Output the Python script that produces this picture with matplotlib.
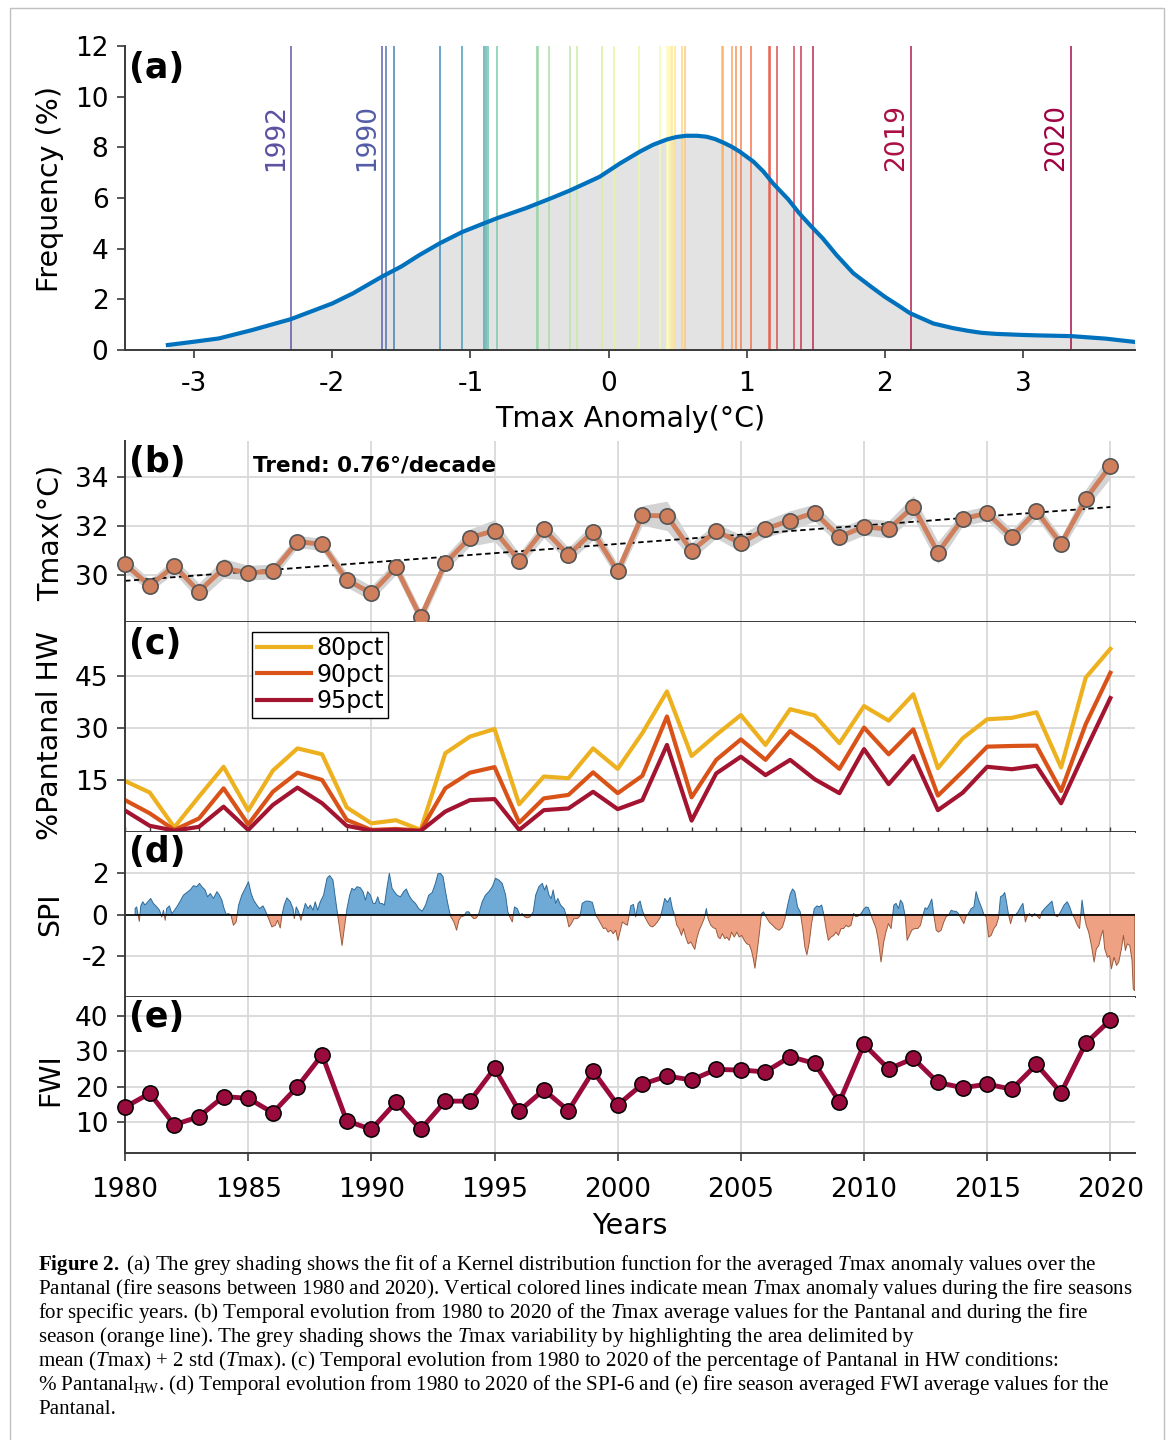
import numpy as np
import matplotlib.pyplot as plt
from matplotlib.patches import Rectangle

plt.rcParams['axes.unicode_minus'] = False
plt.rcParams['mathtext.fontset'] = 'custom'
plt.rcParams['mathtext.rm'] = 'Liberation Serif'
plt.rcParams['mathtext.it'] = 'Liberation Serif:italic'
plt.rcParams['mathtext.bf'] = 'Liberation Serif:bold'

# ---------------- data ----------------
years = np.arange(1980, 2021)

# (a) kernel density curve
kde_x = [-3.19, -3.0, -2.82, -2.58, -2.30, -2.0, -1.85, -1.64, -1.50, -1.37,
         -1.22, -1.06, -0.88, -0.80, -0.70, -0.60, -0.52, -0.40, -0.28, -0.16,
         -0.065, 0.08, 0.225, 0.32, 0.42, 0.49, 0.56, 0.64, 0.71, 0.77,
         0.83, 0.89, 0.95, 1.05, 1.12, 1.19, 1.30, 1.38, 1.46, 1.55,
         1.65, 1.77, 1.90, 2.0, 2.10, 2.18, 2.35, 2.49, 2.60, 2.70,
         2.80, 2.98, 3.10, 3.35, 3.60, 3.81]
kde_y = [0.20, 0.33, 0.46, 0.79, 1.22, 1.84, 2.24, 2.90, 3.30, 3.75,
         4.22, 4.66, 5.05, 5.22, 5.41, 5.60, 5.77, 6.03, 6.30, 6.60,
         6.84, 7.36, 7.83, 8.10, 8.31, 8.41, 8.46, 8.46, 8.42, 8.33,
         8.19, 8.03, 7.83, 7.43, 7.05, 6.58, 5.95, 5.40, 4.92, 4.41,
         3.75, 3.04, 2.50, 2.10, 1.75, 1.46, 1.05, 0.87, 0.76, 0.68,
         0.64, 0.60, 0.58, 0.55, 0.45, 0.32]

# (a) fire-season Tmax anomalies (one per year, sorted)
anomalies = [-2.30, -1.64, -1.61, -1.55, -1.22, -1.06, -0.90, -0.89, -0.87, -0.81,
             -0.52, -0.51, -0.43, -0.28, -0.23, -0.05, 0.04, 0.22, 0.37, 0.42,
             0.43, 0.44, 0.45, 0.46, 0.48, 0.53, 0.55, 0.82, 0.83, 0.89,
             0.92, 0.96, 1.03, 1.16, 1.17, 1.22, 1.34, 1.39, 1.48, 2.19, 3.35]
label_years = ['1992', '1990', '2019', '2020']
label_values = [-2.30, -1.64, 2.19, 3.35]

# (b) Tmax
tmax = [30.44, 29.56, 30.37, 29.32, 30.27, 30.09, 30.14, 31.36, 31.25, 29.80,
        29.25, 30.31, 28.27, 30.48, 31.52, 31.81, 30.58, 31.86, 30.82, 31.77,
        30.14, 32.43, 32.41, 30.98, 31.80, 31.29, 31.88, 32.22, 32.54, 31.56,
        31.97, 31.86, 32.79, 30.91, 32.29, 32.52, 31.56, 32.61, 31.27, 33.10,
        34.45]
tmax_spread = [0.30, 0.25, 0.30, 0.35, 0.40, 0.30, 0.30, 0.25, 0.25, 0.30,
               0.30, 0.30, 0.30, 0.30, 0.35, 0.45, 0.30, 0.35, 0.30, 0.35,
               0.30, 0.40, 0.60, 0.35, 0.30, 0.35, 0.35, 0.40, 0.35, 0.35,
               0.35, 0.35, 0.45, 0.45, 0.30, 0.30, 0.30, 0.30, 0.30, 0.40,
               0.50]

# (c) % Pantanal in HW
hw80 = [14.7, 11.4, 1.35, 10.2, 18.8, 6.2, 17.7, 24.1, 22.4, 7.1,
        2.5, 3.4, 0.6, 22.7, 27.5, 29.7, 8.0, 16.0, 15.5, 24.1,
        18.2, 28.5, 40.5, 21.9, 28.0, 33.7, 25.1, 35.4, 33.6, 25.6,
        36.3, 32.1, 39.7, 18.4, 27.0, 32.5, 32.9, 34.5, 18.6, 44.5,
        52.8]
hw90 = [9.2, 5.4, 0.6, 3.9, 12.6, 2.2, 11.6, 17.1, 15.0, 3.5,
        0.6, 0.9, 0.4, 12.6, 17.1, 18.7, 2.7, 9.7, 10.7, 17.2,
        11.2, 16.2, 33.3, 10.0, 20.8, 26.7, 20.8, 29.1, 24.1, 18.2,
        30.1, 22.4, 29.6, 10.5, 17.4, 24.6, 24.8, 24.9, 11.8, 31.1,
        45.9]
hw95 = [6.2, 1.8, 0.4, 1.5, 7.3, 0.6, 7.8, 12.8, 8.3, 1.8,
        0.4, 0.6, 0.3, 5.9, 9.2, 9.5, 0.6, 6.3, 6.8, 11.6,
        6.6, 9.2, 25.1, 3.3, 16.9, 21.7, 16.4, 20.8, 15.2, 11.2,
        23.9, 13.8, 21.9, 6.3, 11.3, 18.8, 18.1, 19.1, 8.3, 23.7,
        38.6]

# (d) SPI-6 (sampled along the curve)
spi_t = [1980.41, 1980.47, 1980.58, 1980.64, 1980.72, 1980.81, 1980.95, 1981.04, 1981.15, 1981.29,
         1981.40, 1981.49, 1981.56, 1981.63, 1981.69, 1981.80, 1981.90, 1981.96, 1982.10, 1982.24,
         1982.37, 1982.51, 1982.64, 1982.78, 1982.91, 1983.02, 1983.12, 1983.25, 1983.35, 1983.46,
         1983.59, 1983.73, 1983.83, 1983.93, 1984.02, 1984.11, 1984.20, 1984.30, 1984.40, 1984.51,
         1984.61, 1984.74, 1984.88, 1985.01, 1985.12, 1985.22, 1985.35, 1985.46, 1985.60, 1985.69,
         1985.83, 1985.96, 1986.10, 1986.19, 1986.30, 1986.37, 1986.46, 1986.57, 1986.71, 1986.82,
         1986.87, 1986.95, 1987.05, 1987.14, 1987.22, 1987.32, 1987.43, 1987.52, 1987.63, 1987.72,
         1987.82, 1987.93, 1988.06, 1988.20, 1988.31, 1988.44, 1988.54, 1988.63, 1988.71, 1988.81,
         1988.90, 1989.01, 1989.12, 1989.21, 1989.31, 1989.42, 1989.55, 1989.66, 1989.76, 1989.85,
         1989.96, 1990.07, 1990.16, 1990.26, 1990.34, 1990.43, 1990.53, 1990.64, 1990.73, 1990.84,
         1990.93, 1991.04, 1991.18, 1991.31, 1991.42, 1991.52, 1991.65, 1991.79, 1991.92, 1992.06,
         1992.20, 1992.33, 1992.47, 1992.60, 1992.70, 1992.80, 1992.91, 1993.01, 1993.10, 1993.21,
         1993.35, 1993.46, 1993.55, 1993.64, 1993.75, 1993.86, 1993.96, 1994.05, 1994.16, 1994.27,
         1994.36, 1994.50, 1994.63, 1994.77, 1994.91, 1995.04, 1995.18, 1995.31, 1995.45, 1995.54,
         1995.62, 1995.72, 1995.81, 1995.92, 1996.03, 1996.12, 1996.22, 1996.33, 1996.44, 1996.57,
         1996.67, 1996.80, 1996.94, 1997.03, 1997.11, 1997.21, 1997.30, 1997.38, 1997.48, 1997.57,
         1997.68, 1997.82, 1997.93, 1998.02, 1998.12, 1998.22, 1998.36, 1998.47, 1998.56, 1998.70,
         1998.83, 1998.97, 1999.11, 1999.20, 1999.31, 1999.42, 1999.51, 1999.61, 1999.72, 1999.82,
         1999.92, 2000.01, 2000.19, 2000.28, 2000.39, 2000.46, 2000.53, 2000.64, 2000.73, 2000.83,
         2000.91, 2001.00, 2001.10, 2001.21, 2001.31, 2001.41, 2001.50, 2001.61, 2001.72, 2001.82,
         2001.91, 2002.02, 2002.13, 2002.22, 2002.32, 2002.40, 2002.49, 2002.59, 2002.67, 2002.76,
         2002.86, 2002.97, 2003.08, 2003.13, 2003.21, 2003.31, 2003.40, 2003.51, 2003.60, 2003.67,
         2003.78, 2003.89, 2003.98, 2004.08, 2004.16, 2004.25, 2004.35, 2004.43, 2004.53, 2004.62,
         2004.73, 2004.84, 2004.93, 2005.03, 2005.14, 2005.24, 2005.34, 2005.43, 2005.51, 2005.57,
         2005.65, 2005.75, 2005.84, 2005.92, 2006.02, 2006.15, 2006.29, 2006.42, 2006.56, 2006.69,
         2006.79, 2006.90, 2007.01, 2007.10, 2007.19, 2007.30, 2007.41, 2007.51, 2007.60, 2007.68,
         2007.78, 2007.87, 2007.98, 2008.09, 2008.18, 2008.28, 2008.36, 2008.46, 2008.55, 2008.66,
         2008.77, 2008.86, 2008.96, 2009.07, 2009.17, 2009.27, 2009.36, 2009.47, 2009.58, 2009.67,
         2009.77, 2009.88, 2009.99, 2010.08, 2010.18, 2010.28, 2010.39, 2010.49, 2010.58, 2010.69,
         2010.80, 2010.89, 2010.99, 2011.10, 2011.21, 2011.30, 2011.40, 2011.48, 2011.57, 2011.67,
         2011.75, 2011.84, 2011.94, 2012.05, 2012.18, 2012.29, 2012.39, 2012.48, 2012.56, 2012.66,
         2012.75, 2012.83, 2012.93, 2013.02, 2013.13, 2013.24, 2013.33, 2013.43, 2013.54, 2013.64,
         2013.74, 2013.83, 2013.94, 2014.05, 2014.15, 2014.24, 2014.35, 2014.46, 2014.55, 2014.65,
         2014.76, 2014.87, 2014.96, 2015.06, 2015.16, 2015.27, 2015.37, 2015.46, 2015.54, 2015.64,
         2015.71, 2015.77, 2015.87, 2015.95, 2016.04, 2016.14, 2016.25, 2016.36, 2016.45, 2016.55,
         2016.63, 2016.72, 2016.82, 2016.92, 2017.03, 2017.13, 2017.22, 2017.33, 2017.47, 2017.63,
         2017.74, 2017.85, 2017.98, 2018.12, 2018.25, 2018.35, 2018.44, 2018.55, 2018.66, 2018.75,
         2018.85, 2018.93, 2019.02, 2019.12, 2019.23, 2019.34, 2019.43, 2019.53, 2019.63, 2019.70,
         2019.77, 2019.88, 2019.97, 2020.04, 2020.15, 2020.25, 2020.34, 2020.45, 2020.53, 2020.61,
         2020.69, 2020.79, 2020.88, 2020.93, 2020.99]
spi_v = [0.29, 0.37, -0.33, 0.42, 0.62, 0.46, 0.65, 0.78, 0.54, 0.37,
         0.21, -0.12, 0.21, -0.28, 0.29, 0.42, 0.05, 0.13, 0.37, 0.65,
         0.94, 1.07, 1.19, 1.40, 1.35, 1.51, 1.35, 1.19, 0.86, 1.02,
         0.78, 1.11, 0.94, 0.70, 0.29, 0.00, 0.05, -0.03, -0.52, -0.36,
         0.46, 0.94, 1.27, 1.59, 1.02, 0.70, 0.46, 0.29, 0.42, 0.21,
         -0.20, -0.60, -0.52, -0.28, -0.65, -0.03, 0.46, 0.81, 0.62, 0.29,
         -0.20, 0.37, 0.13, -0.28, 0.10, 0.54, 0.29, 0.46, 0.21, 0.62,
         0.21, 0.62, 0.94, 1.76, 1.89, 1.67, 0.78, 0.00, -0.68, -1.50,
         -0.68, 0.29, 0.94, 1.27, 1.19, 1.35, 1.30, 1.11, 0.70, 1.11,
         0.94, 0.54, 0.54, 0.86, 0.54, 0.54, 0.46, 1.35, 2.00, 1.27,
         1.11, 0.94, 0.86, 1.11, 1.24, 0.94, 0.70, 0.54, 0.29, 0.16,
         0.46, 0.94, 1.07, 1.51, 1.97, 2.00, 1.84, 1.11, 0.54, -0.07,
         -0.36, -0.76, -0.28, -0.11, -0.07, 0.13, 0.13, -0.07, -0.20, -0.16,
         0.05, 0.62, 0.94, 1.11, 1.35, 1.76, 1.67, 1.51, 0.94, 0.13,
         -0.11, -0.36, 0.37, 0.29, -0.03, 0.05, -0.11, -0.16, -0.11, 0.13,
         0.94, 1.35, 1.51, 1.19, 1.43, 0.94, 0.78, 1.19, 0.54, 0.78,
         0.46, 0.29, -0.11, -0.60, -0.44, -0.20, -0.20, -0.07, 0.54, 0.65,
         0.65, 0.59, -0.03, -0.20, -0.44, -0.68, -0.65, -0.85, -0.76, -0.93,
         -0.76, -1.25, -0.36, -0.44, -0.52, -0.07, 0.42, 0.49, -0.11, 0.54,
         0.65, 0.21, -0.11, -0.36, -0.55, -0.60, -0.52, -0.36, -0.16, 0.29,
         0.78, 0.59, 0.83, 0.29, -0.07, -0.52, -0.68, -1.01, -0.68, -1.09,
         -1.42, -1.33, -1.58, -1.69, -1.17, -0.76, -0.52, -0.20, 0.29, -0.20,
         -0.52, -0.65, -0.68, -1.09, -1.17, -0.93, -1.17, -1.09, -1.25, -0.85,
         -1.09, -0.85, -1.09, -1.01, -1.25, -1.42, -1.46, -1.74, -2.18, -2.60,
         -1.90, -0.93, 0.05, 0.13, -0.11, -0.36, -0.52, -0.68, -0.76, -0.60,
         -0.20, 0.46, 1.02, 1.24, 1.11, 0.37, 0.13, -0.68, -1.58, -1.95,
         -1.33, -0.44, 0.29, 0.42, 0.37, 0.46, 0.05, -0.68, -1.25, -1.09,
         -1.01, -0.85, -1.01, -0.68, -0.68, -0.52, -0.60, -0.52, 0.05, -0.11,
         -0.07, 0.05, 0.26, 0.37, 0.33, -0.03, -0.36, -0.68, -1.25, -2.30,
         -1.33, -0.85, -0.44, -0.68, 0.46, 0.54, 0.29, 0.70, 0.54, -0.07,
         -1.25, -1.01, -0.76, -0.68, -0.68, -0.52, -0.03, 0.33, 0.26, 0.49,
         0.75, 0.00, -0.76, -0.85, -0.76, -0.36, -0.11, -0.03, 0.21, 0.16,
         0.16, 0.05, -0.20, -0.44, -0.07, 0.05, 0.29, 0.37, 1.11, 0.70,
         0.37, 0.00, -0.11, -1.09, -1.01, -0.68, -0.52, -0.16, 0.86, 0.94,
         1.07, 0.70, -0.03, -0.44, -0.03, -0.03, 0.13, 0.37, 0.54, -0.36,
         -0.07, 0.05, -0.11, 0.05, -0.07, -0.20, 0.13, 0.29, 0.46, 0.65,
         -0.03, -0.11, 0.13, 0.46, 0.62, 0.37, 0.05, -0.20, -0.52, -0.68,
         0.70, 0.00, -0.52, -0.85, -1.50, -2.30, -1.66, -1.50, -1.01, -0.76,
         -1.66, -2.07, -1.99, -2.63, -2.07, -2.47, -2.30, -1.66, -1.01, -1.74,
         -1.42, -1.50, -2.23, -3.61, -3.69]

# (e) FWI
fwi = [14.2, 18.1, 9.2, 11.5, 17.2, 16.7, 12.6, 20.0, 29.0, 10.3,
       7.9, 15.6, 7.9, 15.9, 15.9, 25.2, 13.1, 19.1, 13.2, 24.4,
       14.8, 20.7, 23.0, 21.9, 24.9, 24.7, 24.2, 28.5, 26.6, 15.7,
       32.0, 25.0, 28.0, 21.2, 19.7, 20.7, 19.3, 26.3, 18.3, 32.3,
       38.9]

caption = [
    r"$\mathbf{Figure\ 2.}$ (a) The grey shading shows the fit of a Kernel distribution function for the averaged $\mathit{T}$max anomaly values over the",
    r"Pantanal (fire seasons between 1980 and 2020). Vertical colored lines indicate mean $\mathit{T}$max anomaly values during the fire seasons",
    r"for specific years. (b) Temporal evolution from 1980 to 2020 of the $\mathit{T}$max average values for the Pantanal and during the fire",
    r"season (orange line). The grey shading shows the $\mathit{T}$max variability by highlighting the area delimited by",
    r"mean ($\mathit{T}$max) + 2 std ($\mathit{T}$max). (c) Temporal evolution from 1980 to 2020 of the percentage of Pantanal in HW conditions:",
    r"% Pantanal$_{\mathrm{HW}}$. (d) Temporal evolution from 1980 to 2020 of the SPI-6 and (e) fire season averaged FWI average values for the",
    r"Pantanal.",
]

# ---------------- plotting ----------------
spine_col = '#3a3a3a'
grid_col = '#d9d9d9'
tick_fs = 19
lab_fs = 20.5

fig = plt.figure(figsize=(11.73, 14.4), dpi=100)
L, W = 0.1066, 0.8610
ax_a = fig.add_axes([L, 0.7569, W, 0.2111])
ax_b = fig.add_axes([L, 0.5681, W, 0.1257])
ax_c = fig.add_axes([L, 0.4222, W, 0.1458])
ax_d = fig.add_axes([L, 0.3076, W, 0.1146])
ax_e = fig.add_axes([L, 0.1993, W, 0.1083])


def style(ax):
    for s in ['top', 'right']:
        ax.spines[s].set_visible(False)
    for s in ['left', 'bottom']:
        ax.spines[s].set_color(spine_col)
        ax.spines[s].set_linewidth(1.4)
    ax.tick_params(axis='both', direction='out', length=6, width=1.2,
                   color=spine_col, labelsize=tick_fs, pad=6)


def panel_label(ax, txt, y):
    ax.text(0.004, y, txt, transform=ax.transAxes, fontsize=25,
            fontweight='bold', ha='left', va='top')


# (a)
style(ax_a)
ax_a.fill_between(kde_x, 0, kde_y, color='#e3e3e3', lw=0, zorder=1)
cmap = plt.get_cmap('Spectral_r')
n = len(anomalies)
for i, v in enumerate(anomalies):
    ax_a.axvline(v, color=cmap(i / (n - 1)), lw=1.3, alpha=0.8, zorder=2)
for name, v in zip(label_years, label_values):
    c = cmap(anomalies.index(v) / (n - 1))
    ax_a.text(v - 0.015, 7.05, name, rotation=90, ha='right', va='bottom',
              color=c, fontsize=19)
ax_a.plot(kde_x, kde_y, color='#0072bd', lw=3, zorder=3)
ax_a.set_xlim(-3.5, 3.81)
ax_a.set_ylim(0, 12)
ax_a.set_xticks(range(-3, 4))
ax_a.set_yticks(range(0, 13, 2))
ax_a.tick_params(axis='x', pad=9)
ax_a.set_xlabel('Tmax Anomaly(°C)', fontsize=lab_fs, labelpad=6)
ax_a.set_ylabel('Frequency (%)', fontsize=lab_fs, va='center')
ax_a.yaxis.set_label_coords(-0.074, 0.53)
panel_label(ax_a, '(a)', 0.985)

# shared style for the time-series panels
for ax in [ax_b, ax_c, ax_d, ax_e]:
    style(ax)
    ax.set_xlim(1980, 2021)
    ax.set_xticks(range(1980, 2021, 5))
    ax.grid(True, which='major', color=grid_col, lw=1.3)
    ax.set_axisbelow(True)
    if ax is not ax_e:
        ax.tick_params(axis='x', labelbottom=False, length=0)

# (b)
tmax_a = np.array(tmax)
spr = np.array(tmax_spread)
ax_b.fill_between(years, tmax_a - spr, tmax_a + spr, color='#d3d3d3', lw=0, zorder=1)
coef = np.polyfit(years, tmax_a, 1)
ax_b.plot(years, np.polyval(coef, years), color='black', lw=1.3,
          ls=(0, (3, 2)), zorder=2)
ax_b.plot(years, tmax, '-o', color='#cf7f5c', lw=3.5, ms=11, mfc='#cf7f5c',
          mec='#555555', mew=1.2, clip_on=False, zorder=3)
ax_b.text(1985.2, 34.45, 'Trend: 0.76°/decade', fontsize=15.5,
          fontweight='bold', va='center')
ax_b.set_ylim(28.08, 35.47)
ax_b.set_yticks([30, 32, 34])
ax_b.set_ylabel('Tmax(°C)', fontsize=lab_fs, va='center')
ax_b.yaxis.set_label_coords(-0.074, 0.49)
panel_label(ax_b, '(b)', 0.98)

# (c)
ax_c.plot(years, hw80, color='#edb120', lw=3, label='80pct')
ax_c.plot(years, hw90, color='#d95319', lw=3, label='90pct')
ax_c.plot(years, hw95, color='#a2142f', lw=3, label='95pct')
ax_c.set_ylim(0, 60.5)
ax_c.set_yticks([15, 30, 45])
ax_c.set_xticks(years, minor=True)
ax_c.tick_params(axis='x', which='both', direction='inout', length=7,
                 width=1, color=spine_col)
ax_c.set_ylabel('%Pantanal HW', fontsize=lab_fs, va='center')
ax_c.yaxis.set_label_coords(-0.074, 0.46)
leg = ax_c.legend(loc='upper left', bbox_to_anchor=(0.126, 0.955), fontsize=17,
                  frameon=True, fancybox=False, edgecolor='black', framealpha=1,
                  handlelength=2.3, handletextpad=0.2, labelspacing=0.1,
                  borderpad=0.2, borderaxespad=0)
leg.get_frame().set_linewidth(1.0)
panel_label(ax_c, '(c)', 0.975)

# (d)
st = np.array(spi_t)
sv = np.array(spi_v)
ax_d.fill_between(st, 0, sv, where=sv >= 0, interpolate=True,
                  facecolor='#6fa9d6', edgecolor='#2f6a98', lw=0.7)
ax_d.fill_between(st, 0, sv, where=sv <= 0, interpolate=True,
                  facecolor='#eea283', edgecolor='#9c5a3c', lw=0.7)
ax_d.axhline(0, color='black', lw=1.2)
ax_d.set_ylim(-4, 4)
ax_d.set_yticks([-2, 0, 2])
ax_d.set_ylabel('SPI', fontsize=lab_fs, va='center')
ax_d.yaxis.set_label_coords(-0.074, 0.5)
panel_label(ax_d, '(d)', 0.98)

# (e)
ax_e.plot(years, fwi, '-o', color='#990a3d', lw=3.5, ms=11, mfc='#990a3d',
          mec='black', mew=1.1, clip_on=False, zorder=3)
ax_e.set_ylim(1.2, 45.4)
ax_e.set_yticks([10, 20, 30, 40])
ax_e.tick_params(axis='x', pad=11)
ax_e.set_ylabel('FWI', fontsize=lab_fs, va='center')
ax_e.yaxis.set_label_coords(-0.074, 0.47)
ax_e.set_xlabel('Years', fontsize=lab_fs, labelpad=7)
panel_label(ax_e, '(e)', 0.98)

# caption
for k, line in enumerate(caption):
    fig.text(38 / 1173, 1 - (1265 + 24 * k) / 1440, line, fontsize=15.1,
             family='Liberation Serif', ha='left', va='center')

# thin frame around the figure
fig.add_artist(Rectangle((10 / 1173, -0.01), 1154 / 1173, 1 - 8 / 1440 + 0.01,
                         transform=fig.transFigure, fill=False,
                         edgecolor='#c0c0c0', lw=1))

fig.savefig('out.png', dpi=100)
